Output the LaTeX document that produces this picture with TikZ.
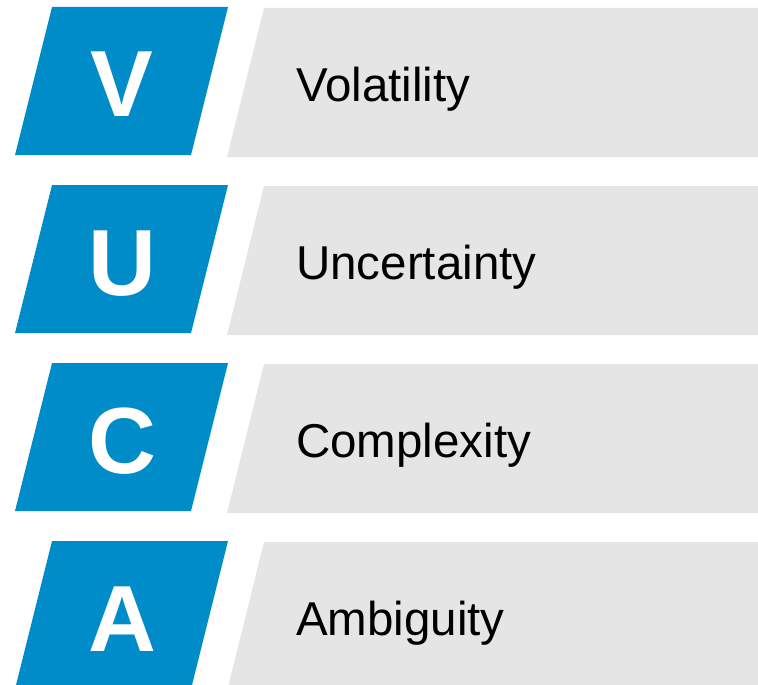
\documentclass[tikz,border=0pt]{standalone}
\usepackage{fontspec}
\setmainfont{Liberation Sans}
\definecolor{vucablue}{RGB}{0,140,200}
\definecolor{vucagray}{RGB}{229,229,229}

\begin{document}
\begin{tikzpicture}
        [
            x=1pt, y=-1pt,
            letterbox/.style={fill=vucablue},
            wordbox/.style={fill=vucagray},
            letter/.style={anchor=base, text=white, font=\fontsize{94}{94}\selectfont\bfseries, inner sep=0pt},
            word/.style={anchor=base west, text=black, font=\fontsize{47.5}{47.5}\selectfont, inner sep=0pt},
        ]
    \useasboundingbox (0,0) rectangle (758,685);
    \clip (0,0) rectangle (758,685);

    \foreach \ltr/\word [count=\i from 0] in {V/Volatility, U/Uncertainty, C/Complexity, A/Ambiguity}{
        \pgfmathsetmacro{\top}{7+178*\i}
        % blue letter tile and grey band
        \fill[letterbox] (52,\top) -- (228,\top) -- (191,\top+148) -- (15,\top+148) -- cycle;
        \fill[wordbox] (264,\top+1) -- (758,\top+1) -- (758,\top+150) -- (227,\top+150) -- cycle;
        \node[letter] (letter\i) at (122,\top+110) {\ltr};
        \node[word] (word\i) at (296,\top+94) {\word};
    }
\end{tikzpicture}
\end{document}
